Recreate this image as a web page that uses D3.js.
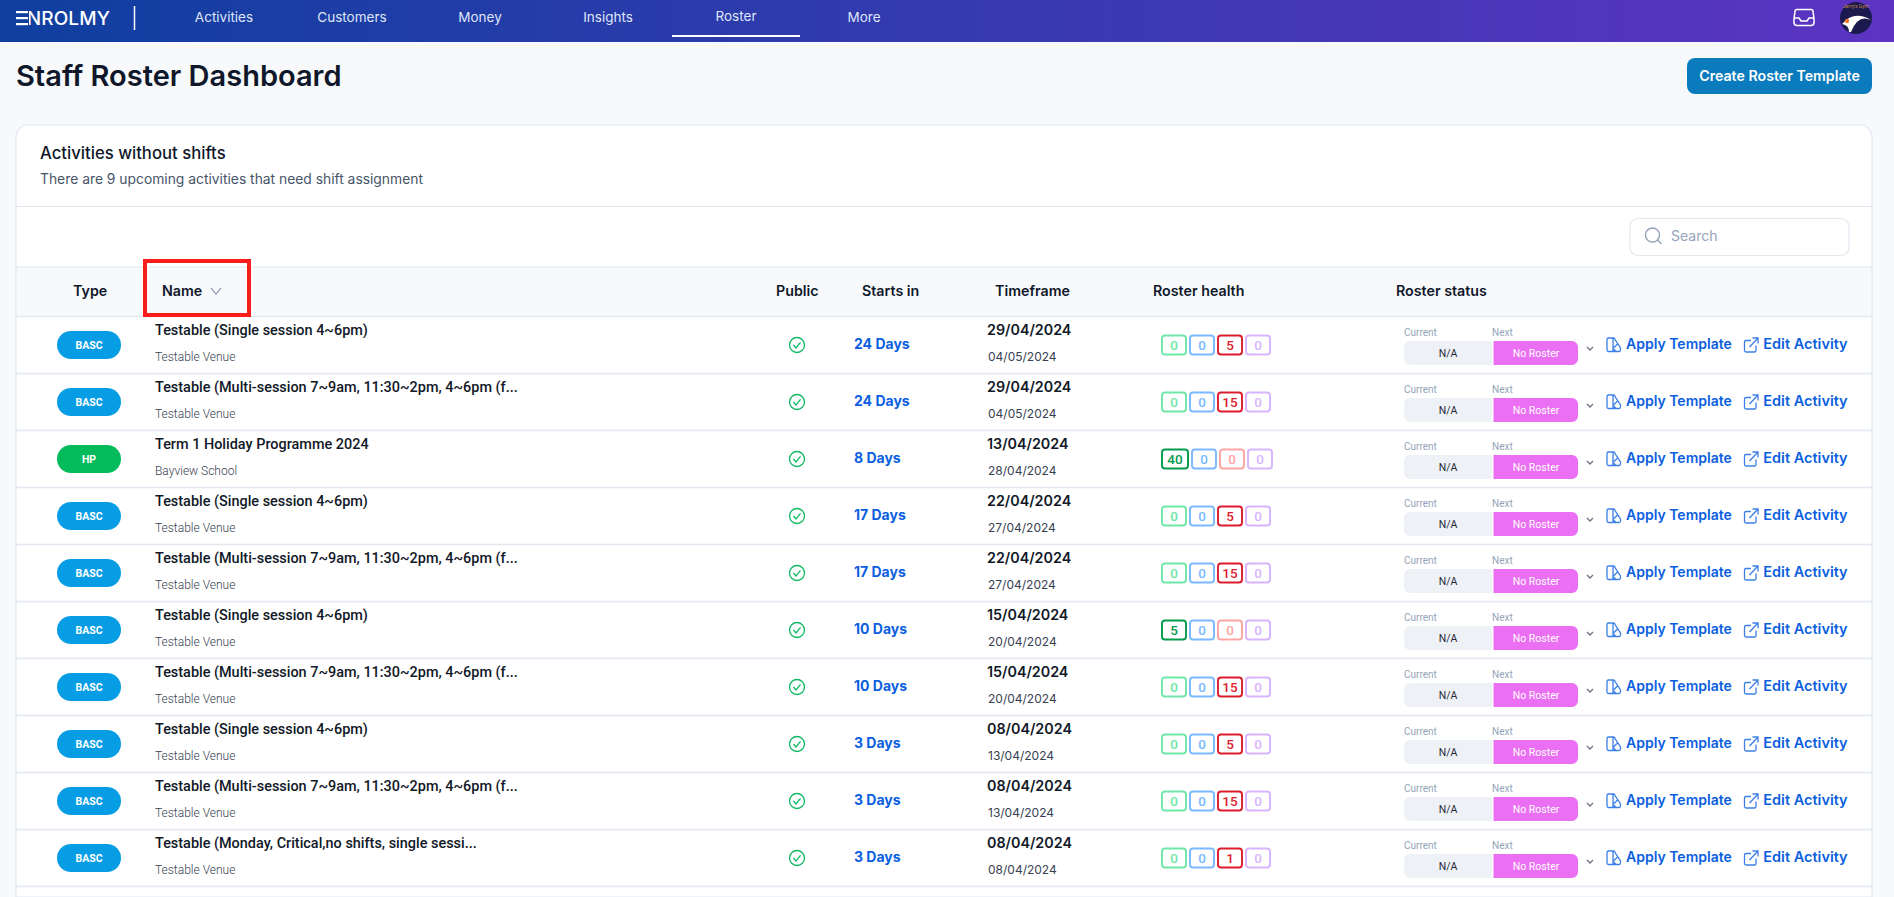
<!DOCTYPE html>
<html>
<head>
<meta charset="utf-8">
<title>Staff Roster Dashboard</title>
<script src="https://cdn.jsdelivr.net/npm/d3@7"></script>
<style>
html, body { margin: 0; padding: 0; background: #f8f9fb; overflow: hidden; }
svg { display: block; }
text { font-family: Roboto, sans-serif; }
.head { font-family: Inter, sans-serif; }
</style>
</head>
<body>
<div id="chart-area"></div>
<script>
var navItems = ["Activities", "Customers", "Money", "Insights", "Roster", "More"];
var columnLabels = ["Type", "Name", "Public", "Starts in", "Timeframe", "Roster health", "Roster status"];

var types = ["BASC", "BASC", "HP", "BASC", "BASC", "BASC", "BASC", "BASC", "BASC", "BASC"];
var names = ["Testable (Single session 4~6pm)",
	"Testable (Multi-session 7~9am, 11:30~2pm, 4~6pm (f...",
	"Term 1 Holiday Programme 2024",
	"Testable (Single session 4~6pm)",
	"Testable (Multi-session 7~9am, 11:30~2pm, 4~6pm (f...",
	"Testable (Single session 4~6pm)",
	"Testable (Multi-session 7~9am, 11:30~2pm, 4~6pm (f...",
	"Testable (Single session 4~6pm)",
	"Testable (Multi-session 7~9am, 11:30~2pm, 4~6pm (f...",
	"Testable (Monday, Critical,no shifts, single sessi..."];
var venues = ["Testable Venue", "Testable Venue", "Bayview School", "Testable Venue", "Testable Venue",
	"Testable Venue", "Testable Venue", "Testable Venue", "Testable Venue", "Testable Venue"];
var startsIn = [24, 24, 8, 17, 17, 10, 10, 3, 3, 3];
var startDates = ["29/04/2024", "29/04/2024", "13/04/2024", "22/04/2024", "22/04/2024",
	"15/04/2024", "15/04/2024", "08/04/2024", "08/04/2024", "08/04/2024"];
var endDates = ["04/05/2024", "04/05/2024", "28/04/2024", "27/04/2024", "27/04/2024",
	"20/04/2024", "20/04/2024", "13/04/2024", "13/04/2024", "08/04/2024"];
var healthGreen = [0, 0, 40, 0, 0, 5, 0, 0, 0, 0];
var healthBlue = [0, 0, 0, 0, 0, 0, 0, 0, 0, 0];
var healthRed = [5, 15, 0, 5, 15, 0, 15, 5, 15, 1];
var healthPurple = [0, 0, 0, 0, 0, 0, 0, 0, 0, 0];

var width = 1894, height = 897;
var cardR = 1872;
var blue = "#0b5fe0", lineCol = "#e2e8f0";

var svg = d3.select("#chart-area").append("svg")
	.attr("width", width)
	.attr("height", height);

var grad = svg.append("defs").append("linearGradient")
	.attr("id", "topbar").attr("x1", "0").attr("x2", "1").attr("y1", "0").attr("y2", "0");
grad.append("stop").attr("offset", "0").attr("stop-color", "#0f3f9f");
grad.append("stop").attr("offset", "0.5").attr("stop-color", "#353ab0");
grad.append("stop").attr("offset", "1").attr("stop-color", "#5c34c2");

// top bar
svg.append("rect").attr("width", width).attr("height", 42).attr("fill", "url(#topbar)");
svg.append("text").attr("x", 15).attr("y", 25).attr("fill", "#fff").attr("class", "head")
	.attr("font-size", 19).attr("font-weight", 500)
	.attr("textLength", 95).attr("lengthAdjust", "spacing").text("ENROLMY");
// the logo E is three loose bars, so paint over the font's E
svg.append("rect").attr("x", 14).attr("y", 9).attr("width", 15).attr("height", 18).attr("fill", "#0f3f9f");
svg.selectAll(".logoBar").data([11, 17, 23]).enter().append("rect")
	.attr("class", "logoBar")
	.attr("x", 16).attr("width", 12).attr("height", 2.2)
	.attr("y", function(d){ return d; })
	.attr("fill", "#fff");
svg.append("line").attr("x1", 134.5).attr("x2", 134.5).attr("y1", 6).attr("y2", 30)
	.attr("stroke", "#fff").attr("stroke-width", 1.5);

var navX = d3.scalePoint().domain(navItems).range([224, 864]);
svg.selectAll(".nav").data(navItems).enter().append("text")
	.attr("class", "nav head")
	.attr("x", function(d){ return navX(d); })
	.attr("y", function(d){ return d == "Roster" ? 21 : 22; })
	.attr("text-anchor", "middle")
	.attr("font-size", 13.5)
	.attr("fill", "#dfe6f8")
	.text(function(d){ return d; });
svg.append("rect").attr("x", 672).attr("y", 35).attr("width", 128).attr("height", 2).attr("fill", "#fff");

// inbox icon and avatar
svg.append("path")
	.attr("d", "M1797 9.5 h14 a2 2 0 0 1 2 2 l1 7 v4 a3 3 0 0 1 -3 3 h-14 a3 3 0 0 1 -3 -3 v-4 l1 -7 a2 2 0 0 1 2 -2 z M1794 18 h5 l2 3 h6 l2 -3 h5")
	.attr("fill", "none").attr("stroke", "#fff").attr("stroke-width", 1.5).attr("stroke-linejoin", "round");
svg.append("circle").attr("cx", 1856).attr("cy", 18).attr("r", 16).attr("fill", "#1a1a4e");
svg.append("path").attr("d", "M1842 24 Q1854 10 1871 20 Q1858 14 1851 32 L1849 32 Q1849 25 1842 24 Z").attr("fill", "#fff");
svg.append("circle").attr("cx", 1847).attr("cy", 21).attr("r", 2.2).attr("fill", "#f07a28");
svg.append("text").attr("x", 1856).attr("y", 8).attr("text-anchor", "middle").attr("font-size", 5)
	.attr("fill", "#c9824a").text("Jerry's Gym");

// page heading
svg.append("text").attr("class", "head").attr("x", 16).attr("y", 86)
	.attr("font-size", 29).attr("font-weight", 600).attr("fill", "#0f172a").text("Staff Roster Dashboard");
svg.append("rect").attr("x", 1687).attr("y", 58).attr("width", 185).attr("height", 36).attr("rx", 8).attr("fill", "#0a7bbd");
svg.append("text").attr("class", "head").attr("x", 1779.5).attr("y", 81).attr("text-anchor", "middle")
	.attr("font-size", 14.2).attr("font-weight", 600).attr("fill", "#fff").text("Create Roster Template");

// card
svg.append("path")
	.attr("d", "M16 897 V137 a12 12 0 0 1 12 -12 H" + (cardR - 12) + " a12 12 0 0 1 12 12 V897 Z")
	.attr("fill", "#fff").attr("stroke", lineCol).attr("stroke-width", 1.2);
svg.append("text").attr("class", "head").attr("x", 40).attr("y", 159)
	.attr("font-size", 16.7).attr("font-weight", 500).attr("fill", "#0f172a").text("Activities without shifts");
svg.append("text").attr("class", "head").attr("x", 40).attr("y", 184)
	.attr("font-size", 13.85).attr("fill", "#475569").text("There are 9 upcoming activities that need shift assignment");
svg.append("line").attr("x1", 16).attr("x2", cardR).attr("y1", 206.5).attr("y2", 206.5).attr("stroke", lineCol).attr("stroke-width", 1.2);

// search
svg.append("rect").attr("x", 1630).attr("y", 218.5).attr("width", 219).attr("height", 37).attr("rx", 8)
	.attr("fill", "#fff").attr("stroke", lineCol).attr("stroke-width", 1.2);
svg.append("circle").attr("cx", 1652.5).attr("cy", 235).attr("r", 7).attr("fill", "none").attr("stroke", "#94a3b8").attr("stroke-width", 1.4);
svg.append("line").attr("x1", 1657.5).attr("y1", 240).attr("x2", 1661.5).attr("y2", 244).attr("stroke", "#94a3b8").attr("stroke-width", 1.4);
svg.append("text").attr("class", "head").attr("x", 1671).attr("y", 241).attr("font-size", 14).attr("fill", "#94a3b8").text("Search");

// column header band
svg.append("rect").attr("x", 17).attr("y", 267).attr("width", cardR - 18).attr("height", 49.5).attr("fill", "#f8f9fb");
svg.append("line").attr("x1", 16).attr("x2", cardR).attr("y1", 267).attr("y2", 267).attr("stroke", lineCol).attr("stroke-width", 1.2);

var colX = d3.scaleOrdinal().domain(columnLabels).range([73, 162, 776, 862, 995, 1153, 1396]);
svg.selectAll(".col").data(columnLabels).enter().append("text")
	.attr("class", "col head")
	.attr("x", function(d){ return colX(d); })
	.attr("y", 296)
	.attr("font-size", 14.25)
	.attr("font-weight", 600)
	.attr("fill", "#0f172a")
	.text(function(d){ return d; });
svg.append("path").attr("d", "M211 288 L216 294 L221 288").attr("fill", "none").attr("stroke", "#94a3b8").attr("stroke-width", 1.2);

// rows
var rowIndex = d3.range(names.length);
var y = d3.scaleBand().domain(rowIndex).range([316.5, 886.5]);
var typeColor = d3.scaleOrdinal().domain(["BASC", "HP"]).range(["#069de5", "#04bb5c"]);

var rows = svg.selectAll(".row").data(rowIndex).enter().append("g")
	.attr("class", "row")
	.attr("transform", function(i){ return "translate(0," + y(i) + ")"; });

svg.selectAll(".rule").data(d3.range(names.length + 1)).enter().append("line")
	.attr("class", "rule")
	.attr("x1", 16).attr("x2", cardR)
	.attr("y1", function(i){ return 316.5 + i * y.bandwidth(); })
	.attr("y2", function(i){ return 316.5 + i * y.bandwidth(); })
	.attr("stroke", lineCol).attr("stroke-width", 1.4);

rows.append("rect").attr("x", 57).attr("y", 14.5).attr("width", 64).attr("height", 28).attr("rx", 14)
	.attr("fill", function(i){ return typeColor(types[i]); });
rows.append("text").attr("x", 89).attr("y", 32).attr("text-anchor", "middle")
	.attr("font-size", 10.5).attr("font-weight", 700).attr("fill", "#fff")
	.text(function(i){ return types[i]; });

rows.append("text").attr("x", 155).attr("y", 18.5)
	.attr("font-size", 14.45).attr("font-weight", 500).attr("fill", "#111827")
	.text(function(i){ return names[i]; });
rows.append("text").attr("x", 155).attr("y", 44.5)
	.attr("font-size", 12).attr("font-weight", 300).attr("fill", "#374151")
	.text(function(i){ return venues[i]; });

rows.append("circle").attr("cx", 797).attr("cy", 28.5).attr("r", 7.5)
	.attr("fill", "none").attr("stroke", "#10b964").attr("stroke-width", 1.3);
rows.append("path").attr("d", "M793.5 28.5 L796 31.5 L800.5 25.8")
	.attr("fill", "none").attr("stroke", "#10b964").attr("stroke-width", 1.3);

rows.append("text").attr("class", "head").attr("x", 854).attr("y", 32.7)
	.attr("font-size", 14).attr("font-weight", 700).attr("fill", blue)
	.text(function(i){ return startsIn[i] + " Days"; });

rows.append("text").attr("class", "head").attr("x", 987).attr("y", 18.5)
	.attr("font-size", 14.3).attr("font-weight", 600).attr("fill", "#111827")
	.text(function(i){ return startDates[i]; });
rows.append("text").attr("class", "head").attr("x", 988).attr("y", 44.5)
	.attr("font-size", 12).attr("fill", "#374151")
	.text(function(i){ return endDates[i]; });

// roster health badges, laid out left to right so a wider number pushes the rest along
var healthSeries = [
	{values: healthGreen, on: "#059a4c", off: "#6ee7a8"},
	{values: healthBlue, on: "#7ab8ff", off: "#7ab8ff"},
	{values: healthRed, on: "#dc1c2c", off: "#fca5a5"},
	{values: healthPurple, on: "#d8b4fe", off: "#d8b4fe"}
];
rows.each(function(i){
	var g = d3.select(this), bx = 1162;
	healthSeries.forEach(function(s){
		var v = s.values[i];
		var w = v >= 20 ? 27 : 25;
		var c = v > 0 ? s.on : s.off;
		g.append("rect").attr("x", bx).attr("y", 19).attr("width", w - 1).attr("height", 19).attr("rx", 3)
			.attr("fill", "#fff").attr("stroke", c).attr("stroke-width", 1.9);
		g.append("text").attr("x", bx + (w - 1) / 2).attr("y", 33.3).attr("text-anchor", "middle")
			.attr("font-size", 13.5).attr("font-weight", 500).attr("fill", c).text(v);
		bx += w + 3;
	});
});

// roster status
rows.append("text").attr("x", 1404).attr("y", 19.5).attr("font-size", 10).attr("fill", "#94a3b8").text("Current");
rows.append("text").attr("x", 1492).attr("y", 19.5).attr("font-size", 10).attr("fill", "#94a3b8").text("Next");
rows.append("path").attr("d", "M1492 24.5 H1410 a6 6 0 0 0 -6 6 V42.5 a6 6 0 0 0 6 6 H1492 Z").attr("fill", "#eef2f6");
rows.append("path").attr("d", "M1493.5 24.5 H1572 a6 6 0 0 1 6 6 V42.5 a6 6 0 0 1 -6 6 H1493.5 Z").attr("fill", "#eb6ff2");
rows.append("text").attr("x", 1448).attr("y", 40).attr("text-anchor", "middle").attr("font-size", 10.5).attr("fill", "#1f2937").text("N/A");
rows.append("text").attr("x", 1536).attr("y", 40).attr("text-anchor", "middle").attr("font-size", 10.5).attr("fill", "#fff").text("No Roster");
rows.append("path").attr("d", "M1587 30.5 L1590 33.5 L1593 30.5").attr("fill", "none").attr("stroke", "#6b7280").attr("stroke-width", 1.3);

// actions
rows.append("path").attr("d", "M1608.5 21.5 h5 a1.5 1.5 0 0 1 1.5 1.5 l5.5 8.5 v2 a1.5 1.5 0 0 1 -1.5 1.5 h-10.5 a1.5 1.5 0 0 1 -1.5 -1.5 v-10.5 a1.5 1.5 0 0 1 1.5 -1.5 z M1613 22 v13 M1613 32 l5 -5 M1616 35 l-3 -3")
	.attr("fill", "none").attr("stroke", blue).attr("stroke-width", 1.3).attr("opacity", 0.8);
rows.append("text").attr("class", "head").attr("x", 1626).attr("y", 32.7)
	.attr("font-size", 14).attr("font-weight", 600).attr("fill", blue).text("Apply Template");
rows.append("path").attr("d", "M1751 24 h-5 a1.5 1.5 0 0 0 -1.5 1.5 v8.5 a1.5 1.5 0 0 0 1.5 1.5 h8.5 a1.5 1.5 0 0 0 1.5 -1.5 v-5 M1749.5 30.5 l8 -8.5 M1752.5 21.5 h5.5 v5.5")
	.attr("fill", "none").attr("stroke", blue).attr("stroke-width", 1.3).attr("opacity", 0.8);
rows.append("text").attr("class", "head").attr("x", 1763.3).attr("y", 32.7)
	.attr("font-size", 14.5).attr("font-weight", 600).attr("fill", blue).text("Edit Activity");

// red highlight round the Name header
svg.append("rect").attr("x", 145).attr("y", 261).attr("width", 104).attr("height", 54)
	.attr("fill", "none").attr("stroke", "#fb1c1c").attr("stroke-width", 4);
</script>
</body>
</html>
